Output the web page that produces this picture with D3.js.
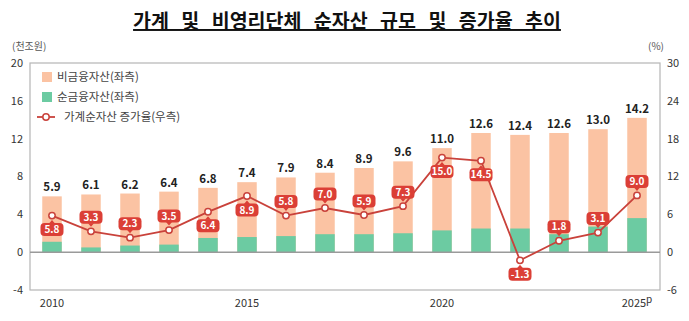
<!DOCTYPE html>
<html>
<head>
<meta charset="utf-8">
<script src="https://cdn.jsdelivr.net/npm/d3@7"></script>
<style>
  body { margin: 0; background: #fff; }
  svg { display: block; font-family: "Noto Sans CJK KR", "Noto Sans", sans-serif; }
</style>
</head>
<body>
<div id="chart"></div>
<script>
// data
const years = ["2010","2011","2012","2013","2014","2015","2016","2017","2018","2019","2020","2021","2022","2023","2024","2025"];
const totalAssets = [5.9, 6.1, 6.2, 6.4, 6.8, 7.4, 7.9, 8.4, 8.9, 9.6, 11.0, 12.6, 12.4, 12.6, 13.0, 14.2];
const netFinancial = [1.1, 0.5, 0.7, 0.8, 1.5, 1.6, 1.7, 1.9, 1.9, 2.0, 2.3, 2.5, 2.5, 1.9, 2.7, 3.6];
const growthRate = [5.8, 3.3, 2.3, 3.5, 6.4, 8.9, 5.8, 7.0, 5.9, 7.3, 15.0, 14.5, -1.3, 1.8, 3.1, 9.0];
const leftTicks = [-4, 0, 4, 8, 12, 16, 20];
const rightTicks = [-6, 0, 6, 12, 18, 24, 30];
const xLabels = ["2010", "2015", "2020", "2025"];
// where each rate pill sits relative to its point
const pillSide = ["below","above","above","above","below","below","above","above","above","above","below","below","below","above","above","above"];

const width = 689, height = 321;
const plot = {left: 30, right: 660, top: 63, bottom: 290};
const lineColor = "#c9423b", pillColor = "#db3f36";

const svg = d3.select("#chart").append("svg")
    .attr("width", width)
    .attr("height", height);

const x = d3.scaleBand().domain(years).range([32.5, 656.5])
    .paddingInner(0.5).paddingOuter(0.25);
const yL = d3.scaleLinear().domain([-4, 20]).range([plot.bottom, plot.top]);
const yR = d3.scaleLinear().domain([-6, 30]).range([plot.bottom, plot.top]);

// title
svg.append("text")
    .attr("x", 347).attr("y", 28)
    .attr("text-anchor", "middle")
    .style("font-size", "19.5px").style("font-weight", "700").style("fill", "#111")
    .style("word-spacing", "8px")
    .style("text-decoration", "underline")
    .text("가계 및 비영리단체 순자산 규모 및 증가율 추이");

// units
svg.append("text").attr("x", 12).attr("y", 50)
    .style("font-size", "10px").style("fill", "#555").text("(천조원)");
svg.append("text").attr("x", 648).attr("y", 50)
    .style("font-size", "10px").style("fill", "#555").text("(%)");

// frame
svg.append("rect")
    .attr("x", plot.left).attr("y", plot.top)
    .attr("width", plot.right - plot.left).attr("height", plot.bottom - plot.top)
    .attr("fill", "none").attr("stroke", "#b5b5b5").attr("stroke-width", 1.2);

// left ticks
svg.append("g").selectAll("text")
    .data(leftTicks).enter().append("text")
    .attr("x", 23).attr("y", d => yL(d))
    .attr("dy", "0.35em").attr("text-anchor", "end")
    .style("font-size", "11px").style("fill", "#333")
    .text(d => d);

// right ticks
svg.append("g").selectAll("text")
    .data(rightTicks).enter().append("text")
    .attr("x", 667).attr("y", d => yR(d))
    .attr("dy", "0.35em")
    .style("font-size", "11px").style("fill", "#333")
    .text(d => d);

// bars: non-financial (total) behind, net financial in front
const bars = svg.append("g");
bars.selectAll("rect.total")
    .data(years).enter().append("rect")
    .attr("class", "total")
    .attr("x", d => x(d))
    .attr("width", x.bandwidth())
    .attr("y", (d, i) => yL(totalAssets[i]))
    .attr("height", (d, i) => yL(0) - yL(totalAssets[i]))
    .attr("fill", "#fbc3a3");
bars.selectAll("rect.net")
    .data(years).enter().append("rect")
    .attr("class", "net")
    .attr("x", d => x(d))
    .attr("width", x.bandwidth())
    .attr("y", (d, i) => yL(netFinancial[i]))
    .attr("height", (d, i) => yL(0) - yL(netFinancial[i]))
    .attr("fill", "#6ccba2");

// zero line
svg.append("line")
    .attr("x1", plot.left).attr("x2", plot.right)
    .attr("y1", yL(0)).attr("y2", yL(0))
    .attr("stroke", "#9a9a9a").attr("stroke-width", 1.5);

// total labels
svg.append("g").selectAll("text")
    .data(years).enter().append("text")
    .attr("x", d => x(d) + x.bandwidth() / 2)
    .attr("y", (d, i) => yL(totalAssets[i]) - 5)
    .attr("text-anchor", "middle")
    .style("font-size", "11.5px").style("font-weight", "600").style("fill", "#222")
    .text((d, i) => totalAssets[i].toFixed(1));

// growth line
const cx = d => x(d) + x.bandwidth() / 2;
const line = d3.line()
    .x(d => cx(d))
    .y((d, i) => yR(growthRate[i]));
svg.append("path")
    .datum(years)
    .attr("d", line)
    .attr("fill", "none")
    .attr("stroke", lineColor)
    .attr("stroke-width", 1.8);

// rate pills
const pills = svg.append("g").selectAll("g")
    .data(years).enter().append("g")
    .attr("transform", (d, i) => {
        const off = pillSide[i] === "above" ? -14 : 14;
        return `translate(${cx(d)}, ${yR(growthRate[i]) + off})`;
    });
pills.append("path")
    .attr("d", (d, i) => pillSide[i] === "above"
        ? "M-3,6 L3,6 L0,9.5 Z"
        : "M-3,-6 L3,-6 L0,-9.5 Z")
    .attr("fill", pillColor);
pills.append("rect")
    .attr("x", -11.5).attr("y", -6.5)
    .attr("width", 23).attr("height", 13)
    .attr("rx", 4)
    .attr("fill", pillColor);
pills.append("text")
    .attr("y", 0).attr("dy", "0.36em")
    .attr("text-anchor", "middle")
    .style("font-size", "10px").style("font-weight", "600").style("fill", "#fff")
    .text((d, i) => growthRate[i].toFixed(1));

// markers
svg.append("g").selectAll("circle")
    .data(years).enter().append("circle")
    .attr("cx", d => cx(d))
    .attr("cy", (d, i) => yR(growthRate[i]))
    .attr("r", 3.2)
    .attr("fill", "#fff")
    .attr("stroke", lineColor)
    .attr("stroke-width", 1.5);

// x labels
const xl = svg.append("g").selectAll("text")
    .data(xLabels).enter().append("text")
    .attr("x", d => cx(d))
    .attr("y", 307)
    .attr("text-anchor", "middle")
    .style("font-size", "11px").style("fill", "#333")
    .text(d => d);
xl.filter(d => d === "2025").append("tspan")
    .attr("dy", -4).style("font-size", "10px").text("p");

// legend
const legend = svg.append("g").attr("transform", "translate(40, 0)");
legend.append("rect").attr("x", 2).attr("y", 72).attr("width", 10).attr("height", 10).attr("fill", "#fbc3a3");
legend.append("text").attr("x", 17).attr("y", 77).attr("dy", "0.35em")
    .style("font-size", "11.5px").style("fill", "#444").text("비금융자산(좌측)");
legend.append("rect").attr("x", 2).attr("y", 92).attr("width", 10).attr("height", 10).attr("fill", "#6ccba2");
legend.append("text").attr("x", 17).attr("y", 97).attr("dy", "0.35em")
    .style("font-size", "11.5px").style("fill", "#444").text("순금융자산(좌측)");
legend.append("line").attr("x1", -3).attr("x2", 15).attr("y1", 117).attr("y2", 117)
    .attr("stroke", lineColor).attr("stroke-width", 1.8);
legend.append("circle").attr("cx", 6).attr("cy", 117).attr("r", 3.2)
    .attr("fill", "#fff").attr("stroke", lineColor).attr("stroke-width", 1.5);
legend.append("text").attr("x", 24).attr("y", 117).attr("dy", "0.35em")
    .style("font-size", "11.5px").style("fill", "#444").text("가계순자산 증가율(우측)");
</script>
</body>
</html>
